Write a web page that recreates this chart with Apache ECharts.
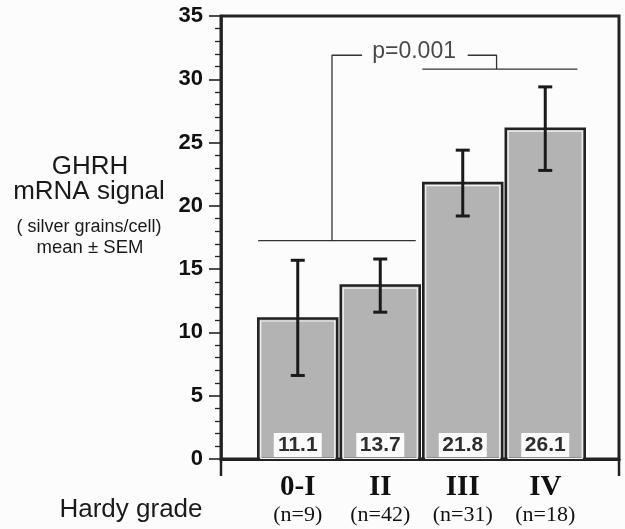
<!DOCTYPE html>
<html>
<head>
<meta charset="utf-8">
<script src="https://cdn.jsdelivr.net/npm/echarts@6/dist/echarts.min.js"></script>
<style>
  html, body { margin: 0; padding: 0; background: #fcfcfc; }
  #chart { width: 625px; height: 529px; }
</style>
</head>
<body>
<div id="chart"></div>
<script>
// Hardy grade groups and GHRH mRNA signal (mean ± SEM)
const grades = ['0-I', 'II', 'III', 'IV'];
const groupSizes = ['(n=9)', '(n=42)', '(n=31)', '(n=18)'];
const means = [11.1, 13.7, 21.8, 26.1];
const errLow = [6.6, 11.6, 19.2, 22.8];
const errHigh = [15.7, 15.8, 24.4, 29.4];
const yTicks = [0, 5, 10, 15, 20, 25, 30, 35];

// significance bracket, in bar index units
const bracketLow = [[-0.48, 17.25], [1.43, 17.25]];
const bracketLeft = [[0.415, 17.25], [0.415, 31.9], [0.78, 31.9]];
const bracketRight = [[2.06, 31.9], [2.41, 31.9], [2.41, 30.8]];
const bracketHigh = [[1.51, 30.8], [3.39, 30.8]];
const pText = [[1.41, 32.2]];

const ink = '#222';
const sans = 'Liberation Sans, Arial, sans-serif';
const serif = 'Liberation Serif, Times New Roman, serif';

const chart = echarts.init(document.getElementById('chart'));

function bracket(data) {
  return {
    type: 'line', xAxisIndex: 2, yAxisIndex: 1, data: data,
    symbol: 'none', silent: true, z: 5,
    lineStyle: { color: '#333', width: 1.3 }
  };
}

const option = {
  backgroundColor: '#fcfcfc',
  animation: false,
  grid: [
    { left: 221, top: 16, width: 398, height: 443, show: true,
      borderColor: ink, borderWidth: 3, backgroundColor: 'transparent' },
    { left: 256.5, top: 16, width: 330, height: 443 }
  ],
  xAxis: [
    { gridIndex: 0, type: 'value', min: 0, max: 1,
      axisLine: { show: true, lineStyle: { color: ink, width: 3 } },
      axisTick: { show: false }, axisLabel: { show: false }, splitLine: { show: false } },
    { gridIndex: 1, type: 'category', data: grades,
      axisLine: { show: false }, axisTick: { show: false },
      axisLabel: {
        margin: 14,
        formatter: function (v, i) { return '{a|' + v + '}\n{b|' + groupSizes[i] + '}'; },
        rich: {
          a: { fontFamily: serif, fontWeight: 'bold', fontSize: 29, lineHeight: 30, color: '#111' },
          b: { fontFamily: serif, fontSize: 22, lineHeight: 24, color: '#111' }
        }
      } },
    { gridIndex: 1, type: 'value', min: -0.5, max: 3.5, show: false }
  ],
  yAxis: [
    { gridIndex: 0, type: 'value', min: 0, max: 35, interval: 5,
      axisLine: { show: true, lineStyle: { color: ink, width: 2.5 } },
      axisTick: { show: true, length: 12, lineStyle: { color: ink, width: 1.6 } },
      minorTick: { show: true, splitNumber: 5, length: 6, lineStyle: { color: ink, width: 1.3 } },
      axisLabel: {
        margin: 18, fontFamily: sans, fontWeight: 'bold', fontSize: 22, color: '#111',
        formatter: function (v) { return yTicks.indexOf(v) >= 0 ? String(v) : ''; }
      },
      splitLine: { show: false } },
    { gridIndex: 1, type: 'value', min: 0, max: 35, show: false }
  ],
  series: [
    {
      type: 'custom', xAxisIndex: 1, yAxisIndex: 1, z: 3,
      data: means.map(function (m, i) { return [i, m]; }),
      renderItem: function (params, api) {
        const i = api.value(0);
        const top = api.coord([i, api.value(1)]);
        const base = api.coord([i, 0]);
        const w = api.size([1, 0])[0] - 3.5;
        const x = top[0] - w / 2;
        const h = base[1] - top[1];
        return {
          type: 'group',
          children: [
            { type: 'rect', shape: { x: x, y: top[1], width: w, height: h },
              style: { fill: '#b3b3b3', stroke: ink, lineWidth: 2.5 } },
            { type: 'rect', shape: { x: x + 2.5, y: top[1] + 2.5, width: w - 5, height: h - 3 },
              style: { fill: 'none', stroke: '#f4f4f4', lineWidth: 1.2 } },
            { type: 'rect', shape: { x: top[0] - 24, y: base[1] - 26, width: 48, height: 24 },
              style: { fill: '#fbfbfb' } },
            { type: 'text', x: top[0], y: base[1] - 14,
              style: { text: String(means[i]), fontFamily: sans, fontWeight: 'bold', fontSize: 21,
                       fill: '#2e2e2e', align: 'center', verticalAlign: 'middle' } }
          ]
        };
      }
    },
    {
      type: 'custom', xAxisIndex: 1, yAxisIndex: 1, z: 4,
      data: means.map(function (m, i) { return [i, errLow[i], errHigh[i]]; }),
      renderItem: function (params, api) {
        const i = api.value(0);
        const lo = api.coord([i, api.value(1)]);
        const hi = api.coord([i, api.value(2)]);
        const c = 7;
        const st = { stroke: '#1a1a1a', lineWidth: 3 };
        return {
          type: 'group',
          children: [
            { type: 'line', shape: { x1: lo[0], y1: lo[1], x2: hi[0], y2: hi[1] }, style: st },
            { type: 'line', shape: { x1: lo[0] - c, y1: lo[1], x2: lo[0] + c, y2: lo[1] }, style: st },
            { type: 'line', shape: { x1: hi[0] - c, y1: hi[1], x2: hi[0] + c, y2: hi[1] }, style: st }
          ]
        };
      }
    },
    bracket(bracketLow),
    bracket(bracketLeft),
    bracket(bracketRight),
    bracket(bracketHigh),
    {
      type: 'scatter', xAxisIndex: 2, yAxisIndex: 1, data: pText, symbolSize: 1,
      itemStyle: { color: 'transparent' }, silent: true,
      label: { show: true, position: 'inside', formatter: 'p=0.001',
               fontFamily: sans, fontSize: 23, color: '#1a1a1a' }
    }
  ],
  graphic: [
    { type: 'line', shape: { x1: 221, y1: 459, x2: 221, y2: 476 }, style: { stroke: ink, lineWidth: 2.5 } },
    { type: 'line', shape: { x1: 619, y1: 459, x2: 619, y2: 476 }, style: { stroke: ink, lineWidth: 2.5 } },
    { type: 'text', x: 90, y: 167, style: { text: 'GHRH', fontFamily: sans, fontSize: 26,
      fill: '#1a1a1a', align: 'center', verticalAlign: 'middle' } },
    { type: 'text', x: 89, y: 192, style: { text: 'mRNA signal', fontFamily: sans, fontSize: 26,
      fill: '#1a1a1a', align: 'center', verticalAlign: 'middle' } },
    { type: 'text', x: 89, y: 227, style: { text: '( silver grains/cell)', fontFamily: sans, fontSize: 18,
      fill: '#1a1a1a', align: 'center', verticalAlign: 'middle' } },
    { type: 'text', x: 90, y: 248, style: { text: 'mean \u00b1 SEM', fontFamily: sans, fontSize: 18.5,
      fill: '#1a1a1a', align: 'center', verticalAlign: 'middle' } },
    { type: 'text', x: 131, y: 510, style: { text: 'Hardy grade', fontFamily: sans, fontSize: 26,
      fill: '#1a1a1a', align: 'center', verticalAlign: 'middle' } }
  ]
};

chart.setOption(option);
</script>
</body>
</html>
